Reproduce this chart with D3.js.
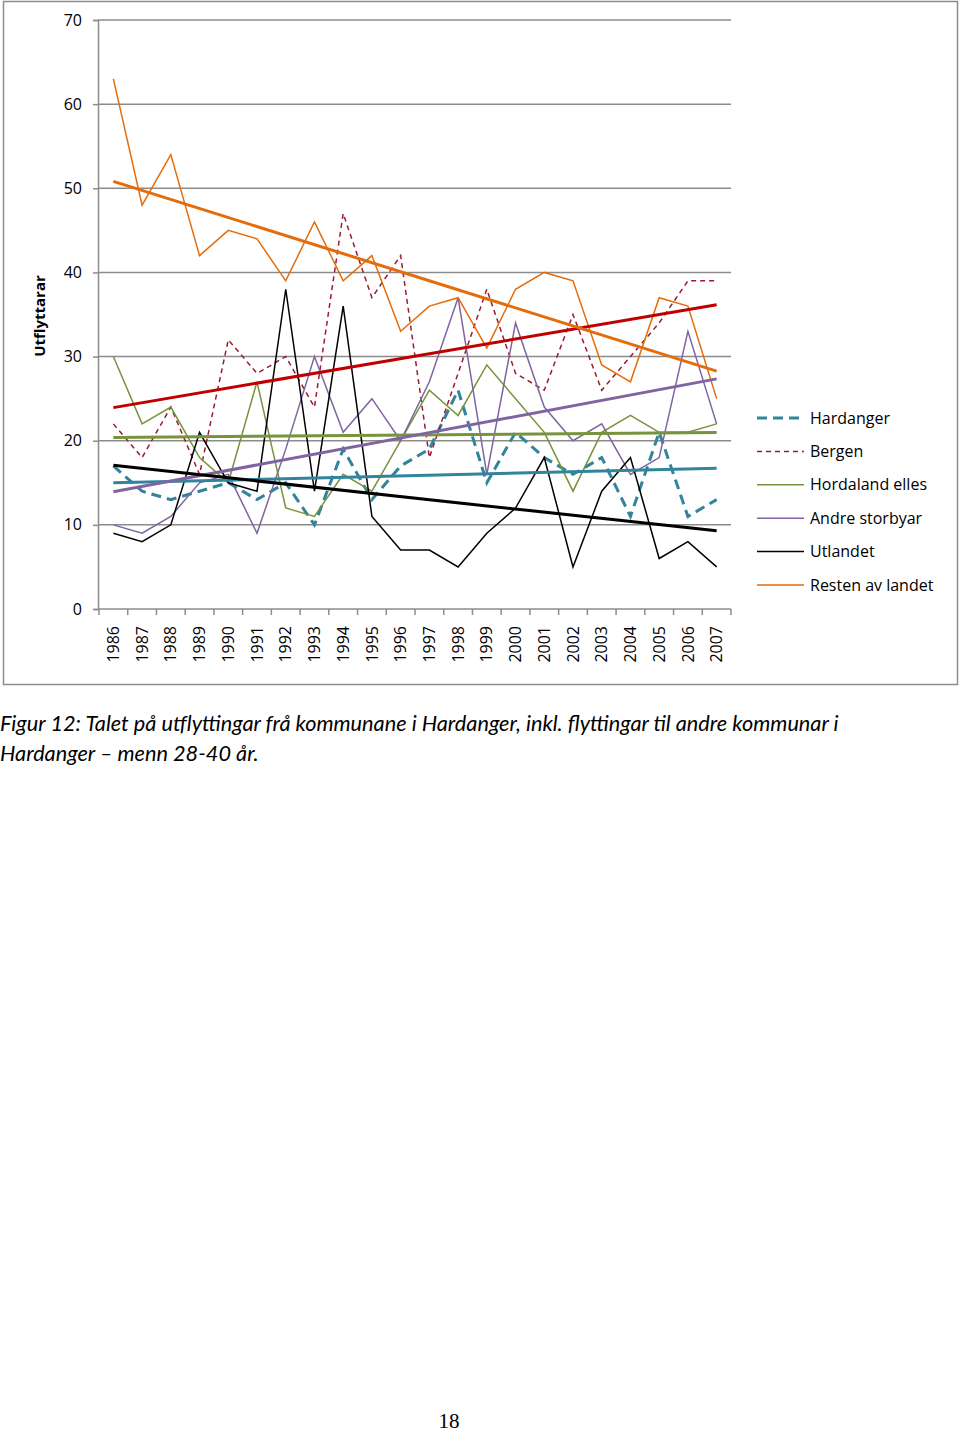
<!DOCTYPE html>
<html>
<head>
<meta charset="utf-8">
<script src="https://cdn.jsdelivr.net/npm/d3@7"></script>
<style>
  html, body { margin: 0; padding: 0; background: #fff; }
  svg { display: block; }
</style>
</head>
<body>
<svg id="chart" width="960" height="1432"></svg>
<script>
const years = ["1986","1987","1988","1989","1990","1991","1992","1993","1994","1995","1996","1997","1998","1999","2000","2001","2002","2003","2004","2005","2006","2007"];
const yTicks = [0, 10, 20, 30, 40, 50, 60, 70];

const hardanger   = [17, 14, 13, 14, 15, 13, 15, 10, 19, 13, 17, 19, 26, 15, 21, 18, 16, 18, 11, 21, 11, 13];
const bergen      = [22, 18, 24, 16, 32, 28, 30, 24, 47, 37, 42, 18, 28, 38, 28, 26, 35, 26, 30, 34, 39, 39];
const hordaland   = [30, 22, 24, 18, 15, 27, 12, 11, 16, 14, 20, 26, 23, 29, 25, 21, 14, 21, 23, 21, 21, 22];
const andre       = [10,  9, 11, 15, 16,  9, 19, 30, 21, 25, 20, 27, 37, 16, 34, 24, 20, 22, 16, 18, 33, 22];
const utlandet    = [ 9,  8, 10, 21, 15, 14, 38, 14, 36, 11,  7,  7,  5,  9, 12, 18,  5, 14, 18,  6,  8,  5];
const resten      = [63, 48, 54, 42, 45, 44, 39, 46, 39, 42, 33, 36, 37, 31, 38, 40, 39, 29, 27, 37, 36, 25];

const seriesNames = ["Hardanger", "Bergen", "Hordaland elles", "Andre storbyar", "Utlandet", "Resten av landet"];

(function () {
const styles = [
  { data: hardanger, color: "#31849B", width: 3,   dash: "10,6", trend: "#31849B" },
  { data: bergen,    color: "#9B1B30", width: 1.5, dash: "5,4",  trend: "#C00000" },
  { data: hordaland, color: "#77933C", width: 1.5, dash: null,   trend: "#77933C" },
  { data: andre,     color: "#8064A2", width: 1.5, dash: null,   trend: "#8064A2" },
  { data: utlandet,  color: "#000000", width: 1.5, dash: null,   trend: "#000000" },
  { data: resten,    color: "#E46C0A", width: 1.5, dash: null,   trend: "#E46C0A" }
];

const svg = d3.select("#chart");
const font = "'Open Sans', 'DejaVu Sans', sans-serif";

// outer chart frame
svg.append("rect").attr("x", 3.5).attr("y", 1.5).attr("width", 954).attr("height", 683)
  .attr("fill", "none").attr("stroke", "#8c8c8c").attr("stroke-width", 1.5);

const axisX = 98, pLeft = 99, pRight = 731, pTop = 20, pBottom = 609;
const x = d3.scaleBand().domain(years).range([pLeft, pRight]).paddingInner(0).paddingOuter(0);
const y = d3.scaleLinear().domain([0, 70]).range([pBottom, pTop]);
const cx = d => x(d) + x.bandwidth() / 2;

// gridlines
svg.append("g").selectAll("line").data(yTicks.filter(t => t > 0)).join("line")
  .attr("x1", axisX).attr("x2", pRight)
  .attr("y1", d => y(d)).attr("y2", d => y(d))
  .attr("stroke", "#8c8c8c").attr("stroke-width", 1.5);

// y axis
const yAxis = svg.append("g").attr("transform", `translate(${axisX},0)`)
  .call(d3.axisLeft(y).tickValues(yTicks).tickSize(5).tickPadding(11));
yAxis.select(".domain").attr("stroke", "#8c8c8c").attr("stroke-width", 1.5);
yAxis.selectAll(".tick line").attr("stroke", "#8c8c8c").attr("stroke-width", 1.5);
yAxis.selectAll("text").attr("font-family", font).attr("font-size", 16).attr("fill", "#000");

// x axis
const xAxis = svg.append("g").attr("transform", `translate(0,${pBottom})`)
  .call(d3.axisBottom(x).tickSize(0).tickSizeOuter(0));
xAxis.select(".domain").attr("stroke", "#8c8c8c").attr("stroke-width", 1.5)
  .attr("d", `M${axisX},0H${pRight}`);
xAxis.selectAll("text")
  .attr("font-family", font).attr("font-size", 16).attr("fill", "#000")
  .attr("transform", "rotate(-90)")
  .attr("text-anchor", "end")
  .attr("x", -17).attr("y", 0).attr("dy", "0.35em");
// boundary ticks
const bounds = years.map(d => x(d)).concat([pRight]);
svg.append("g").selectAll("line").data(bounds).join("line")
  .attr("x1", d => d).attr("x2", d => d)
  .attr("y1", pBottom).attr("y2", pBottom + 6)
  .attr("stroke", "#8c8c8c").attr("stroke-width", 1.5);

// y axis title
svg.append("text").attr("transform", "translate(45,316) rotate(-90)")
  .attr("text-anchor", "middle").attr("font-family", font).attr("font-weight", "bold")
  .attr("font-size", 15).text("Utflyttarar");

// series
const line = d3.line().x((d, i) => cx(years[i])).y(d => y(d));
const gSeries = svg.append("g").attr("fill", "none");
styles.forEach(s => {
  gSeries.append("path").datum(s.data)
    .attr("d", line)
    .attr("stroke", s.color).attr("stroke-width", s.width)
    .attr("stroke-dasharray", s.dash)
    .attr("stroke-linejoin", "miter");
});

// linear trend lines
const idx = years.map((d, i) => i);
function regression(vals) {
  const mx = d3.mean(idx), my = d3.mean(vals);
  const sxy = d3.sum(idx, i => (i - mx) * (vals[i] - my));
  const sxx = d3.sum(idx, i => (i - mx) * (i - mx));
  const b = sxy / sxx, a = my - b * mx;
  return [a, a + b * (years.length - 1)];
}
const gTrend = svg.append("g");
styles.forEach(s => {
  const [y0, y1] = regression(s.data);
  gTrend.append("line")
    .attr("x1", cx(years[0])).attr("x2", cx(years[years.length - 1]))
    .attr("y1", y(y0)).attr("y2", y(y1))
    .attr("stroke", s.trend).attr("stroke-width", 3);
});

// legend
const legend = svg.append("g");
seriesNames.forEach((name, i) => {
  const s = styles[i];
  const ly = 418 + i * 33.4;
  legend.append("line").attr("x1", 757).attr("x2", 804).attr("y1", ly).attr("y2", ly)
    .attr("stroke", s.color).attr("stroke-width", s.width)
    .attr("stroke-dasharray", s.dash);
  legend.append("text").attr("x", 810).attr("y", ly).attr("dy", "0.35em")
    .attr("font-family", font).attr("font-size", 16).text(name);
});

// caption
const capFont = "Lato, 'Open Sans', sans-serif";
svg.append("text").attr("x", 0).attr("y", 731)
  .attr("font-family", capFont).attr("font-style", "italic").attr("font-size", 21.7)
  .text("Figur 12: Talet på utflyttingar frå kommunane i Hardanger, inkl. flyttingar til andre kommunar i");
svg.append("text").attr("x", 0).attr("y", 761)
  .attr("font-family", capFont).attr("font-style", "italic").attr("font-size", 21.7)
  .text("Hardanger – menn 28-40 år.");

// page number
svg.append("text").attr("x", 449).attr("y", 1428).attr("text-anchor", "middle")
  .attr("font-family", "'Liberation Serif', 'DejaVu Serif', serif").attr("font-size", 21)
  .text("18");
})();
</script>
</body>
</html>
